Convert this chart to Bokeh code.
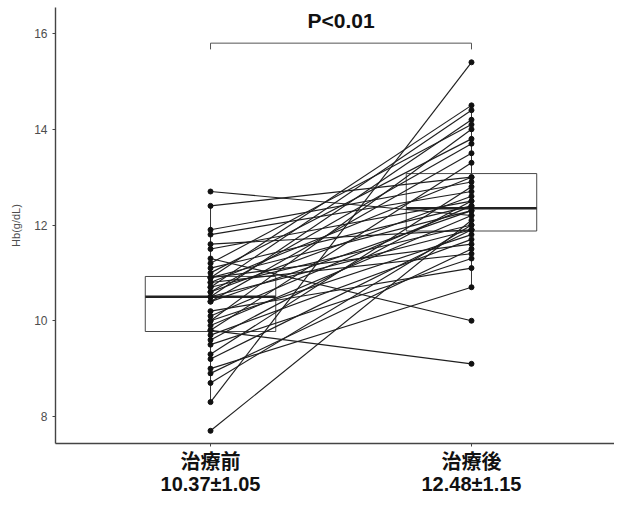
import numpy as np
from bokeh.plotting import figure
from bokeh.models import Range1d, FixedTicker, Label
from bokeh.embed import file_html
from bokeh.resources import INLINE

# ---------------- data ----------------
categories = ["治療前", "治療後"]
summary_labels = ["10.37±1.05", "12.48±1.15"]
before = [7.7, 8.3, 8.7, 8.9, 9.0, 9.2, 9.3, 9.5, 9.6, 9.7,
          9.8, 9.8, 9.9, 10.0, 10.0, 10.1, 10.2, 10.4, 10.4, 10.5,
          10.5, 10.6, 10.6, 10.7, 10.7, 10.8, 10.8, 10.9, 10.9, 10.9,
          11.0, 11.1, 11.2, 11.3, 11.5, 11.6, 11.8, 11.9, 12.4, 12.7]
after = [12.1, 15.4, 12.0, 11.5, 10.7, 11.9, 12.8, 11.3, 12.5, 11.7,
         9.1, 13.3, 12.2, 11.8, 14.0, 12.4, 11.1, 13.5, 12.3, 14.2,
         11.9, 12.6, 13.7, 12.0, 14.4, 11.4, 13.0, 12.3, 14.5, 11.6,
         13.8, 12.4, 14.1, 10.0, 12.5, 11.9, 12.7, 12.9, 13.0, 12.2]
y_ticks = [8, 10, 12, 14, 16]
p_label = "P<0.01"
y_title = "Hb(g/dL)"

# ---------------- figure ----------------
xs = [i + 1 for i in range(len(categories))]
FONT = "'Liberation Sans', Arial, 'Noto Sans CJK JP'"

p = figure(width=614, height=497,
           x_range=Range1d(0.406, 2.548), y_range=Range1d(7.435, 16.545),
           output_backend="svg", toolbar_location=None,
           min_border_left=55, min_border_right=0,
           min_border_top=7, min_border_bottom=40)
p.outline_line_color = None
p.xgrid.visible = False
p.ygrid.visible = False
p.background_fill_color = "white"

# boxplots
box_w = 0.5
for x, vals in zip(xs, [before, after]):
    v = np.array(vals)
    q1, med, q3 = np.percentile(v, [25, 50, 75])
    iqr = q3 - q1
    lo = v[v >= q1 - 1.5 * iqr].min()
    hi = v[v <= q3 + 1.5 * iqr].max()
    p.segment(x0=[x, x], y0=[lo, q3], x1=[x, x], y1=[q1, hi],
              line_color="#333333", line_width=1)
    p.quad(left=[x - box_w / 2], right=[x + box_w / 2], bottom=[q1], top=[q3],
           fill_alpha=0, line_color="#333333", line_width=0.9)
    p.segment(x0=[x - box_w / 2], y0=[med], x1=[x + box_w / 2], y1=[med],
              line_color="#222222", line_width=2.4)

# paired lines
n = len(before)
p.segment(x0=[xs[0]] * n, y0=before, x1=[xs[1]] * n, y1=after,
          line_color="#1f1f1f", line_width=1.15)
p.scatter(x=[xs[0]] * n, y=before, size=5, color="#111111")
p.scatter(x=[xs[1]] * n, y=after, size=5, color="#111111")

# significance bracket
br_y, br_tip = 15.8, 15.67
p.line(x=[xs[0], xs[0], xs[1], xs[1]], y=[br_tip, br_y, br_y, br_tip],
       line_color="#555555", line_width=1)
p.add_layout(Label(x=sum(xs) / 2, y=16.27, text=p_label, text_align="center",
                   text_baseline="middle", text_font=FONT, text_font_style="bold",
                   text_font_size="21px", text_color="#111111"))

# axes
p.yaxis.ticker = FixedTicker(ticks=y_ticks)
p.yaxis.minor_tick_line_color = None
p.yaxis.major_tick_out = 3
p.yaxis.major_tick_in = 0
p.yaxis.major_label_standoff = 5
p.yaxis.major_label_text_font = FONT
p.yaxis.major_label_text_font_size = "12px"
p.yaxis.major_label_text_color = "#4d4d4d"
p.yaxis.axis_line_color = "#444444"
p.yaxis.axis_line_width = 1.4
p.yaxis.major_tick_line_color = "#444444"
p.yaxis.axis_label = y_title
p.yaxis.axis_label_text_font = FONT
p.yaxis.axis_label_text_font_style = "normal"
p.yaxis.axis_label_text_font_size = "11px"
p.yaxis.axis_label_text_color = "#4d4d4d"
p.yaxis.axis_label_standoff = 9

p.xaxis.ticker = FixedTicker(ticks=xs)
p.xaxis.minor_tick_line_color = None
p.xaxis.major_tick_out = 3
p.xaxis.major_tick_in = 0
p.xaxis.major_label_standoff = 4
p.xaxis.major_label_overrides = {x: c + "\n" + s for x, c, s in zip(xs, categories, summary_labels)}
p.xaxis.major_label_text_font = FONT
p.xaxis.major_label_text_font_style = "bold"
p.xaxis.major_label_text_font_size = "20px"
p.xaxis.major_label_text_color = "#111111"
p.xaxis.major_label_text_line_height = 1.0
p.xaxis.axis_line_color = "#444444"
p.xaxis.axis_line_width = 1.4
p.xaxis.major_tick_line_color = "#444444"

open("out.html", "w").write(file_html(p, INLINE))
